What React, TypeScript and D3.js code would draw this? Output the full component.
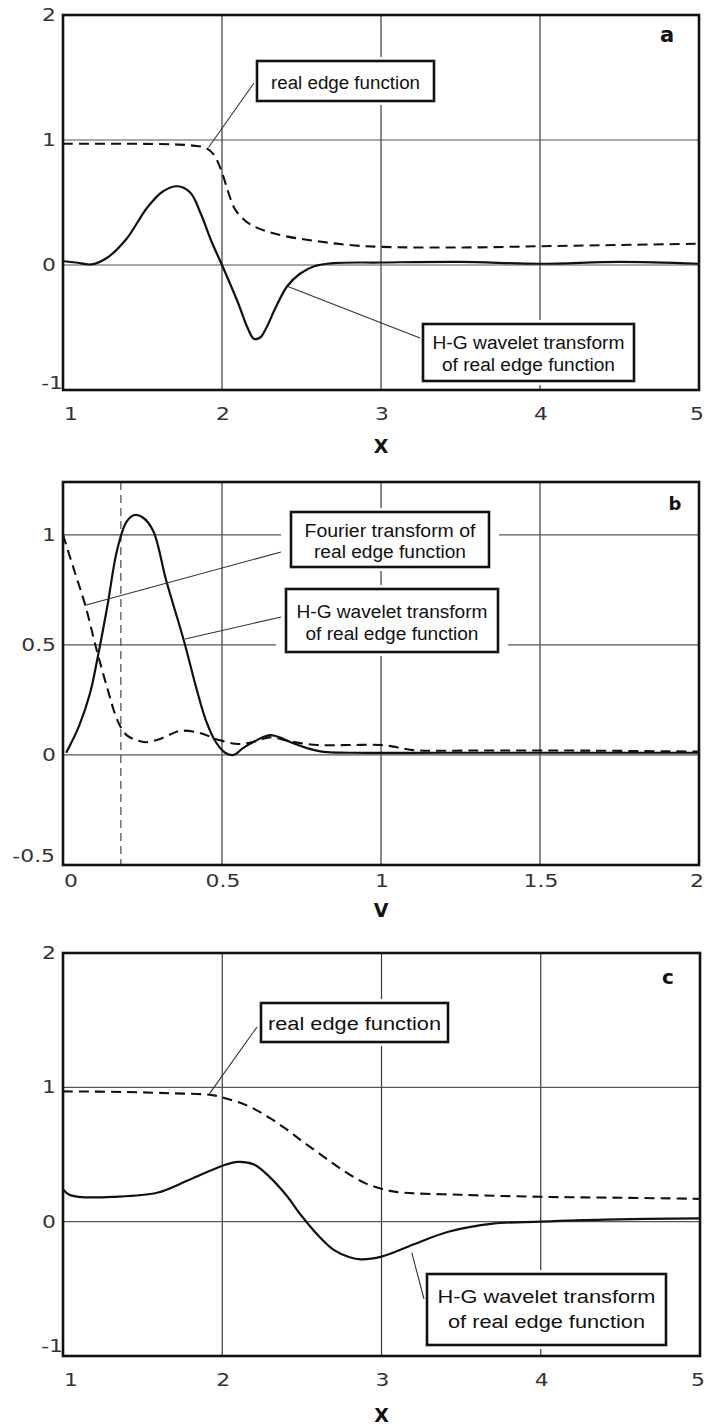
import React from "react";
import * as d3 from "d3";

// panel a: real edge function (dashed) and its H-G wavelet transform (solid)
const aEdgeX = [1.0, 1.4, 1.7, 1.82, 1.9, 1.95, 2.0, 2.04, 2.08, 2.14, 2.2, 2.28, 2.4, 2.6, 2.8, 3.0, 3.5, 4.0, 4.5, 5.0];
const aEdgeY = [0.97, 0.97, 0.965, 0.955, 0.935, 0.88, 0.74, 0.58, 0.45, 0.36, 0.31, 0.27, 0.23, 0.19, 0.16, 0.145, 0.14, 0.15, 0.16, 0.17];
const aWaveX = [1.0, 1.08, 1.18, 1.28, 1.4, 1.53, 1.63, 1.72, 1.8, 1.87, 1.93, 2.0, 2.1, 2.16, 2.2, 2.24, 2.28, 2.33, 2.41, 2.49, 2.58, 2.7, 3.0, 3.5, 4.0, 4.5, 5.0];
const aWaveY = [0.03, 0.02, 0.005, 0.06, 0.21, 0.46, 0.59, 0.63, 0.58, 0.4, 0.2, 0.0, -0.3, -0.5, -0.59, -0.58, -0.5, -0.36, -0.17, -0.07, -0.01, 0.015, 0.02, 0.025, 0.01, 0.025, 0.01];

// panel b: Fourier transform (dashed) and H-G wavelet transform (solid) vs v
const bFourierX = [0, 0.035, 0.07, 0.107, 0.14, 0.165, 0.182, 0.2, 0.23, 0.26, 0.3, 0.34, 0.37, 0.43, 0.49, 0.55, 0.6, 0.65, 0.72, 0.8, 0.9, 1.0, 1.05, 1.1, 1.3, 1.6, 2.0];
const bFourierY = [1.0, 0.84, 0.68, 0.47, 0.3, 0.18, 0.125, 0.09, 0.068, 0.058, 0.07, 0.095, 0.11, 0.1, 0.068, 0.05, 0.06, 0.08, 0.06, 0.045, 0.045, 0.045, 0.035, 0.022, 0.02, 0.02, 0.015];
const bWaveX = [0.01, 0.05, 0.085, 0.11, 0.14, 0.17, 0.2, 0.225, 0.25, 0.283, 0.325, 0.38, 0.42, 0.45, 0.48, 0.51, 0.537, 0.565, 0.6, 0.65, 0.69, 0.72, 0.77, 0.82, 0.9, 1.2, 1.6, 2.0];
const bWaveY = [0.01, 0.13, 0.28, 0.45, 0.68, 0.93, 1.06, 1.09, 1.08, 1.02, 0.79, 0.52, 0.3, 0.155, 0.06, 0.01, 0.0, 0.03, 0.06, 0.09, 0.075, 0.055, 0.03, 0.014, 0.01, 0.01, 0.01, 0.01];
const bMarkerV = 0.182;

// panel c
const cEdgeX = [1.0, 1.4, 1.7, 1.93, 2.0, 2.1, 2.2, 2.3, 2.4, 2.5, 2.6, 2.7, 2.8, 2.9, 3.0, 3.1, 3.5, 4.0, 4.5, 5.0];
const cEdgeY = [0.97, 0.965, 0.955, 0.944, 0.925, 0.89, 0.84, 0.77, 0.69, 0.6, 0.515, 0.43, 0.35, 0.285, 0.245, 0.22, 0.2, 0.185, 0.178, 0.17];
const cWaveX = [1.0, 1.04, 1.1, 1.31, 1.59, 1.79, 2.01, 2.1, 2.2, 2.3, 2.4, 2.5, 2.6, 2.7, 2.8, 2.87, 3.0, 3.2, 3.42, 3.7, 4.0, 4.4, 5.0];
const cWaveY = [0.24, 0.2, 0.185, 0.185, 0.215, 0.31, 0.42, 0.445, 0.425, 0.33, 0.2, 0.04, -0.1, -0.21, -0.265, -0.28, -0.26, -0.17, -0.075, -0.015, 0.0, 0.015, 0.025];

const xTicksA = [1, 2, 3, 4, 5];
const yTicksA = [-1, 0, 1, 2];
const xTicksB = [0, 0.5, 1, 1.5, 2];
const yTicksB = [-0.5, 0, 0.5, 1];

const zip = (xs, ys) => xs.map((x, i) => [x, ys[i]]);

const EDGE = "real edge function";
const HG = ["H-G wavelet transform", "of real edge function"];
const FT = ["Fourier transform of", "real edge function"];

const panels = [
  {
    tag: "a", tagSize: 21, tagX: 667, tagY: 42,
    xDomain: [1, 5], yDomain: [-1, 2],
    left: 63, right: 699, top: 15, bottom: 390,
    xTicks: xTicksA, yTicks: yTicksA, tickY: 420,
    title: "X", titleY: 453, bottomLabel: { dx: 0, dy: -1 },
    solid: zip(aWaveX, aWaveY), dashed: zip(aEdgeX, aEdgeY), marker: null,
    boxes: [
      { x: 257, y: 61, w: 177, h: 40, lines: [EDGE], base: [89], len: [149], tip: [1.915, 0.94], from: [254, 83] },
      { x: 423, y: 324, w: 211, h: 57, lines: HG, base: [349, 371], len: [192, 173], tip: [2.41, -0.17], from: [420, 338] },
    ],
  },
  {
    tag: "b", tagSize: 18, tagX: 675, tagY: 510,
    xDomain: [0, 2], yDomain: [-0.5, 1.24],
    left: 63, right: 699, top: 482, bottom: 865,
    xTicks: xTicksB, yTicks: yTicksB, tickY: 887,
    title: "V", titleY: 917, bottomLabel: { dx: -8, dy: -3 },
    solid: zip(bWaveX, bWaveY), dashed: zip(bFourierX, bFourierY), marker: bMarkerV,
    boxes: [
      { x: 291, y: 512, w: 198, h: 55, lines: FT, base: [537, 558], len: [171, 152], tip: [0.07, 0.68], from: [281, 552] },
      { x: 286, y: 589, w: 212, h: 63, lines: HG, base: [618, 640], len: [191, 173], tip: [0.384, 0.527], from: [281, 617] },
    ],
  },
  {
    tag: "c", tagSize: 20, tagX: 668, tagY: 984,
    xDomain: [1, 5], yDomain: [-1, 2],
    left: 63, right: 700, top: 953, bottom: 1356,
    xTicks: xTicksA, yTicks: yTicksA, tickY: 1386,
    title: "X", titleY: 1422, bottomLabel: { dx: 0, dy: -4 },
    solid: zip(cWaveX, cWaveY), dashed: zip(cEdgeX, cEdgeY), marker: null,
    boxes: [
      { x: 261, y: 1003, w: 187, h: 39, lines: [EDGE], base: [1030], len: [173], tip: [1.92, 0.953], from: [257, 1027] },
      { x: 427, y: 1274, w: 239, h: 71, lines: HG, base: [1303, 1328], len: [218, 197], tip: [3.19, -0.23], from: [424, 1299] },
    ],
  },
];

const tickFont = "'DejaVu Sans', Verdana, sans-serif";
const boxFont = "'Liberation Sans', Arial, sans-serif";

function Panel({ p }) {
  const x = d3.scaleLinear().domain(p.xDomain).range([p.left, p.right]);
  const y = d3.scaleLinear().domain(p.yDomain).range([p.bottom, p.top]);
  const line = d3.line().x((d) => x(d[0])).y((d) => y(d[1])).curve(d3.curveCatmullRom.alpha(0.5));
  const lastX = p.xTicks.length - 1;

  return (
    <g>
      {/* grid */}
      {p.xTicks.map((t) => (
        <line key={"gx" + t} x1={x(t)} x2={x(t)} y1={p.top} y2={p.bottom} stroke="#3a3a3a" strokeWidth={1.2} />
      ))}
      {p.yTicks.map((t) => (
        <line key={"gy" + t} x1={p.left} x2={p.right} y1={y(t)} y2={y(t)} stroke="#555" strokeWidth={1.2} />
      ))}
      {p.marker != null && (
        <line x1={x(p.marker)} x2={x(p.marker)} y1={p.top} y2={p.bottom} stroke="#555" strokeWidth={1.3} strokeDasharray="8,5" />
      )}
      {/* white backing behind the labels */}
      {p.boxes.map((b, i) => (
        <rect key={"bg" + i} x={b.x - 10} y={b.y - 4} width={b.w + 20} height={b.h + 8} fill="#fff" />
      ))}
      <path d={line(p.dashed)} fill="none" stroke="#111" strokeWidth={2.1} strokeDasharray="10,6" />
      <path d={line(p.solid)} fill="none" stroke="#111" strokeWidth={2.2} />
      {p.boxes.map((b, i) => (
        <g key={"bx" + i}>
          <line x1={b.from[0]} y1={b.from[1]} x2={x(b.tip[0])} y2={y(b.tip[1])} stroke="#333" strokeWidth={1.1} />
          <rect x={b.x} y={b.y} width={b.w} height={b.h} fill="#fff" stroke="#111" strokeWidth={2.6} />
          {b.lines.map((s, j) => (
            <text key={j} x={b.x + b.w / 2} y={b.base[j]} textAnchor="middle" fontFamily={boxFont} fontSize={18}
              fill="#111" textLength={b.len[j]} lengthAdjust="spacingAndGlyphs">{s}</text>
          ))}
        </g>
      ))}
      <rect x={p.left} y={p.top} width={p.right - p.left} height={p.bottom - p.top} fill="none" stroke="#111" strokeWidth={2.6} />
      <text x={p.tagX} y={p.tagY} textAnchor="middle" fontFamily={tickFont} fontWeight="bold" fontSize={p.tagSize} fill="#111">{p.tag}</text>
      {/* y tick labels */}
      {p.yTicks.map((t, i) => {
        const bottom = i === 0;
        const tx = bottom ? p.left + p.bottomLabel.dx : p.left - 7;
        const ty = bottom ? p.bottom + p.bottomLabel.dy : y(t) + 6;
        return (
          <text key={"yl" + t} transform={`translate(${tx},${ty}) scale(1.25,1)`} textAnchor="end"
            fontFamily={tickFont} fontSize={17.5} fill="#333">{String(t)}</text>
        );
      })}
      {/* x tick labels */}
      {p.xTicks.map((t, i) => {
        const anchor = i === 0 ? "start" : i === lastX ? "end" : "middle";
        const tx = i === 0 ? x(t) + 1 : i === lastX ? x(t) + 5 : x(t) + 1;
        return (
          <text key={"xl" + t} transform={`translate(${tx},${p.tickY}) scale(1.25,1)`} textAnchor={anchor}
            fontFamily={tickFont} fontSize={17.5} fill="#333">{String(t)}</text>
        );
      })}
      <text x={(p.left + p.right) / 2} y={p.titleY} textAnchor="middle" fontFamily={tickFont} fontWeight="bold" fontSize={19} fill="#111">{p.title}</text>
    </g>
  );
}

export default function App() {
  return (
    <svg width={705} height={1428} style={{ position: "absolute", left: 0, top: 0, background: "#fff" }}>
      <rect width={705} height={1428} fill="#fff" />
      {panels.map((p) => (
        <Panel key={p.tag} p={p} />
      ))}
    </svg>
  );
}
